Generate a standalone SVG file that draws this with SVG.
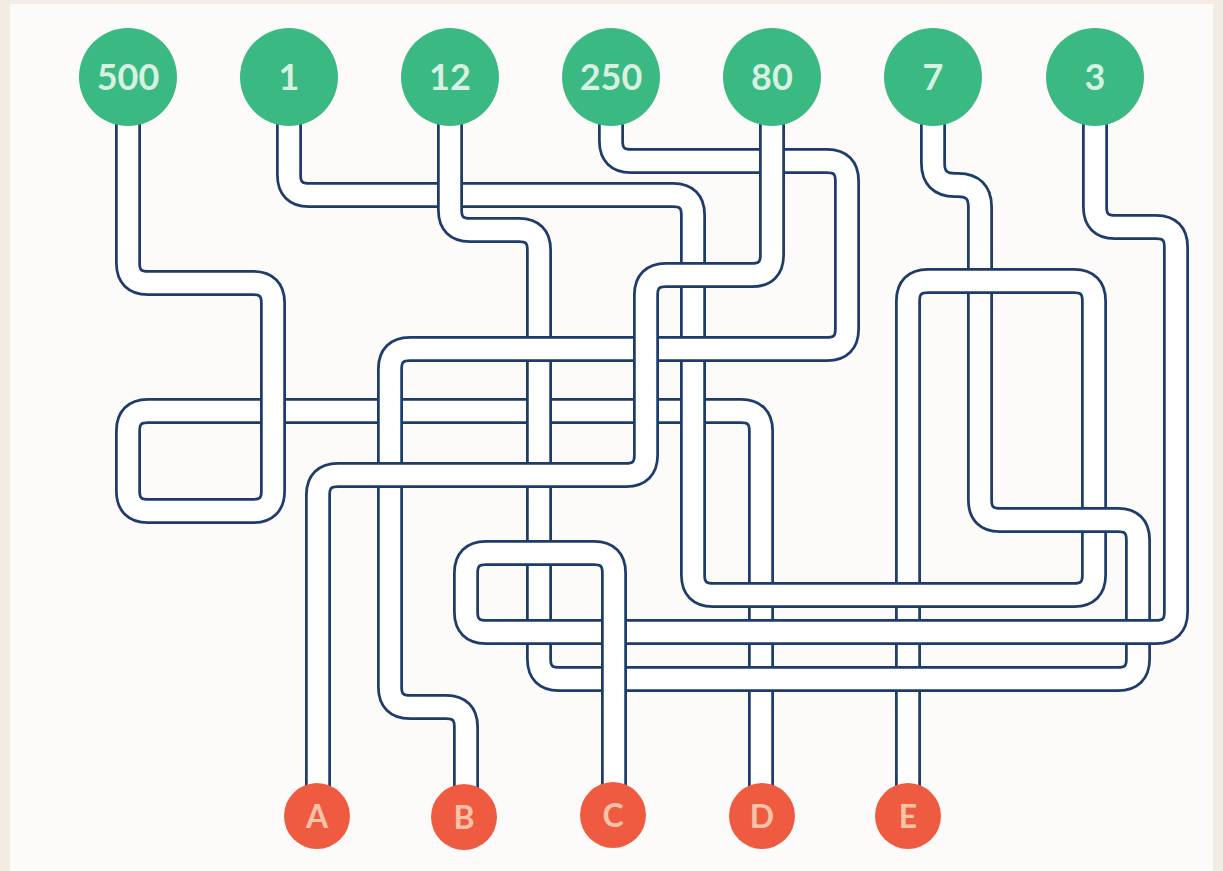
<svg xmlns="http://www.w3.org/2000/svg" width="1223" height="871" viewBox="0 0 1223 871">
<style>
.o{fill:none;stroke:#1e3c6b;stroke-width:26;stroke-linejoin:round}
.w{fill:none;stroke:#ffffff;stroke-width:20.5;stroke-linejoin:round}
.top circle{fill:#3bb983}
.top text{font-family:Lato,"Open Sans",sans-serif;font-weight:700;font-size:36px;fill:#d6f0e1;text-anchor:middle}
.bot circle{fill:#ef5b41}
.bot text{font-family:Lato,"Open Sans",sans-serif;font-weight:700;font-size:32px;fill:#f9c3a7;text-anchor:middle}
</style>
<defs>
<path id="pD" d="M128,77 L128,263 Q128,283 148,283 L253,283 Q273,283 273,303 L273,491 Q273,511 253,511 L148,511 Q128,511 128,491 L128,431 Q128,411 148,411 L741,411 Q761,411 761,431 L761,816"/>
<path id="pE" d="M289,77 L289,175 Q289,195 309,195 L673,195 Q693,195 693,215 L693,575 Q693,595 713,595 L1074,595 Q1094,595 1094,575 L1094,301 Q1094,281 1074,281 L928,281 Q908,281 908,301 L908,816"/>
<path id="pL" d="M450,77 L450,210 Q450,230 470,230 L519,230 Q539,230 539,250 L539,659 Q539,679 559,679 L1118,679 Q1138,679 1138,659 L1138,540 Q1138,520 1118,520 L1000,520 Q980,520 980,500 L980,207 Q980,185 958,185 L955,185 Q933,185 933,163 L933,77"/>
<path id="pB" d="M611,77 L611,141 Q611,161 631,161 L827,161 Q847,161 847,181 L847,329 Q847,349 827,349 L410,349 Q390,349 390,369 L390,687 Q390,707 410,707 L446,707 Q466,707 466,727 L466,816"/>
<path id="pA" d="M772,77 L772,255 Q772,275 752,275 L666,275 Q646,275 646,295 L646,455 Q646,475 626,475 L338,475 Q318,475 318,495 L318,816"/>
<path id="pC" d="M1095,77 L1095,207 Q1095,227 1115,227 L1156,227 Q1176,227 1176,247 L1176,612 Q1176,632 1156,632 L486,632 Q466,632 466,612 L466,573 Q466,553 486,553 L594,553 Q614,553 614,573 L614,816"/>
<path id="x1" d="M273,393 L273,429"/>
<path id="x2" d="M962,281 L998,281"/>
<path id="x3" d="M890,595 L926,595"/>
<path id="x4" d="M614,614 L614,650"/>
</defs>
<rect x="0" y="0" width="1223" height="871" fill="#f3ece5"/>
<rect x="10" y="4" width="1203" height="867" fill="#fcfbfa"/>
<g id="connectors">
<use href="#pD" class="o"/><use href="#pD" class="w"/>
<use href="#pE" class="o"/><use href="#pE" class="w"/>
<use href="#pL" class="o"/><use href="#pL" class="w"/>
<use href="#pB" class="o"/><use href="#pB" class="w"/>
<use href="#pA" class="o"/><use href="#pA" class="w"/>
<use href="#pC" class="o"/><use href="#pC" class="w"/>
<use href="#x1" class="o"/><use href="#x1" class="w"/>
<use href="#x2" class="o"/><use href="#x2" class="w"/>
<use href="#x3" class="o"/><use href="#x3" class="w"/>
<use href="#x4" class="o"/><use href="#x4" class="w"/>
</g>
<g class="top">
<g id="n500"><circle cx="128" cy="77" r="49"/><text x="128" y="90">500</text></g>
<g id="n1"><circle cx="289" cy="77" r="49"/><text x="289" y="90">1</text></g>
<g id="n12"><circle cx="450" cy="77" r="49"/><text x="450" y="90">12</text></g>
<g id="n250"><circle cx="611" cy="77" r="49"/><text x="611" y="90">250</text></g>
<g id="n80"><circle cx="772" cy="77" r="49"/><text x="772" y="90">80</text></g>
<g id="n7"><circle cx="933" cy="77" r="49"/><text x="933" y="90">7</text></g>
<g id="n3"><circle cx="1095" cy="77" r="49"/><text x="1095" y="90">3</text></g>
</g>
<g class="bot">
<g id="nA"><circle cx="317" cy="816" r="33"/><text x="317" y="828">A</text></g>
<g id="nB"><circle cx="464" cy="817" r="33"/><text x="464" y="829">B</text></g>
<g id="nC"><circle cx="613" cy="815" r="33"/><text x="613" y="827">C</text></g>
<g id="nD"><circle cx="762" cy="816" r="33"/><text x="762" y="828">D</text></g>
<g id="nE"><circle cx="908" cy="816" r="33"/><text x="908" y="828">E</text></g>
</g>
</svg>
